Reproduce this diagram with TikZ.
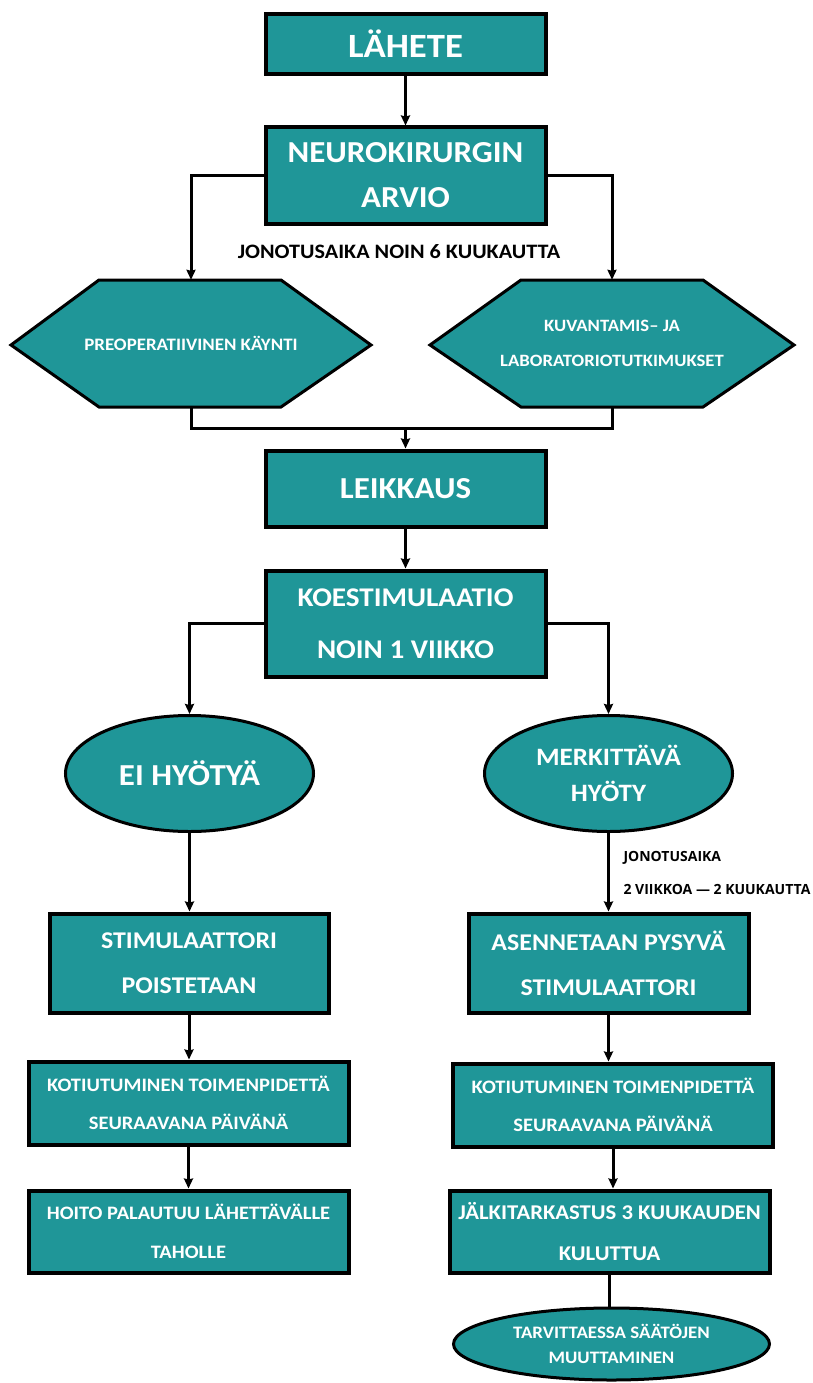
\documentclass[tikz,border=0pt]{standalone}
\usepackage{fontspec}
\setmainfont{Carlito}[FakeStretch=1.08]
\newfontfamily\labelfont{Open Sans}
\usetikzlibrary{arrows.meta,calc,shapes.geometric}
\definecolor{tealfill}{RGB}{31,150,152}
\newcommand\fsz[2]{\fontsize{#1}{#2}\selectfont\bfseries}
\begin{document}
\begin{tikzpicture}[x=1pt,y=-1pt,
  box/.style={draw=black,line width=4pt,fill=tealfill,text=white,align=center,inner sep=0pt},
  oval/.style={ellipse,draw=black,line width=3pt,fill=tealfill,text=white,align=center,inner sep=0pt},
  hexshape/.style={draw=black,line width=3pt,fill=tealfill,line join=miter},
  hextext/.style={text=white,align=center,inner sep=0pt},
  conn/.style={draw=black,line width=3pt},
  arr/.style={conn,-{Stealth[length=10pt,width=9pt,inset=1pt]}}]
\useasboundingbox (0,0) rectangle (812,1383);
\fill[white] (0,0) rectangle (812,1383);

% top boxes
\node[box,minimum width=280pt,minimum height=60pt,font=\fsz{34}{40}] (lahete) at (405.5,44) {LÄHETE};
\node[box,minimum width=280pt,minimum height=96pt,font=\fsz{30.5}{45}] (arvio) at (405.5,175.5) {NEUROKIRURGIN\\ARVIO};
\node[font=\fsz{20.5}{24},text=black] (wait1) at (399,252) {JONOTUSAIKA NOIN 6 KUUKAUTTA};

% hexagons
\draw[hexshape] (11,345) -- (99,280) -- (281,280) -- (371,345) -- (281,407) -- (99,407) -- cycle;
\node[hextext,minimum width=360pt,minimum height=127pt,font=\fsz{17.5}{20}] (hexL) at (191,343.5) {PREOPERATIIVINEN KÄYNTI};
\draw[hexshape] (430,345) -- (521,280) -- (703,280) -- (794,345) -- (703,407) -- (521,407) -- cycle;
\node[hextext,minimum width=364pt,minimum height=127pt,font=\fsz{17.3}{35}] (hexR) at (612,343.5) {KUVANTAMIS– JA\\LABORATORIOTUTKIMUKSET};

\node[box,minimum width=280pt,minimum height=76pt,font=\fsz{30.5}{38}] (leik) at (405.5,488.5) {LEIKKAUS};
\node[box,minimum width=280pt,minimum height=106pt,font=\fsz{27}{52}] (koe) at (405.5,623.5) {KOESTIMULAATIO\\NOIN 1 VIIKKO};

\node[oval,minimum width=248pt,minimum height=116pt,font=\fsz{30.5}{34}] (ellL) at (189.5,773.5) {EI HYÖTYÄ};
\node[oval,minimum width=248pt,minimum height=116pt,font=\fsz{25}{36}] (ellR) at (608.5,773.5) {MERKITTÄVÄ\\HYÖTY};

\node[box,minimum width=279pt,minimum height=99pt,font=\fsz{24}{45}] (stim) at (189,963) {STIMULAATTORI\\POISTETAAN};
\node[box,minimum width=280pt,minimum height=99pt,font=\fsz{24}{45}] (asenn) at (608.5,963) {ASENNETAAN PYSYVÄ\\STIMULAATTORI};
\node[anchor=west,align=left,text=black,font=\labelfont\fontsize{14}{33}\selectfont\bfseries] (wait2) at (620,872.5) {JONOTUSAIKA\\2 VIIKKOA — 2 KUUKAUTTA};

\node[box,minimum width=320pt,minimum height=83pt,font=\fsz{19}{38}] (kotL) at (188.5,1103) {KOTIUTUMINEN TOIMENPIDETTÄ\\SEURAAVANA PÄIVÄNÄ};
\node[box,minimum width=320pt,minimum height=83pt,font=\fsz{19}{38}] (kotR) at (613,1105) {KOTIUTUMINEN TOIMENPIDETTÄ\\SEURAAVANA PÄIVÄNÄ};
\node[box,minimum width=320pt,minimum height=82pt,font=\fsz{19}{39}] (hoito) at (188.5,1231.5) {HOITO PALAUTUU LÄHETTÄVÄLLE\\TAHOLLE};
\node[box,minimum width=320pt,minimum height=82pt,font=\fsz{21}{41}] (jalki) at (609.5,1231.5) {JÄLKITARKASTUS 3 KUUKAUDEN\\KULUTTUA};
\node[oval,minimum width=316pt,minimum height=72pt,font=\fsz{17.5}{25}] (ellB) at (611.5,1344) {TARVITTAESSA SÄÄTÖJEN\\MUUTTAMINEN};

% connectors
\draw[arr] (lahete.south) -- (arvio.north);
\draw[arr] (arvio.west) -| (hexL.north);
\draw[arr] (arvio.east) -| (hexR.north);
\coordinate (join) at (405.5,428);
\draw[conn] (hexL.south) |- (join) -| (hexR.south);
\draw[arr] (join) -- (leik.north);
\draw[arr] (leik.south) -- (koe.north);
\draw[arr] (koe.west) -| (ellL.north);
\draw[arr] (koe.east) -| (ellR.north);
\draw[arr] (ellL.south) -- (ellL.south |- stim.north);
\draw[arr] (ellR.south) -- (ellR.south |- asenn.north);
\draw[arr] (stim.south) -- (stim.south |- kotL.north);
\draw[arr] (asenn.south) -- (asenn.south |- kotR.north);
\draw[arr] (kotL.south) -- (kotL.south |- hoito.north);
\draw[arr] (kotR.south) -- (kotR.south |- jalki.north);
\draw[conn] (jalki.south) -- (jalki.south |- ellB.north);
\end{tikzpicture}
\end{document}
